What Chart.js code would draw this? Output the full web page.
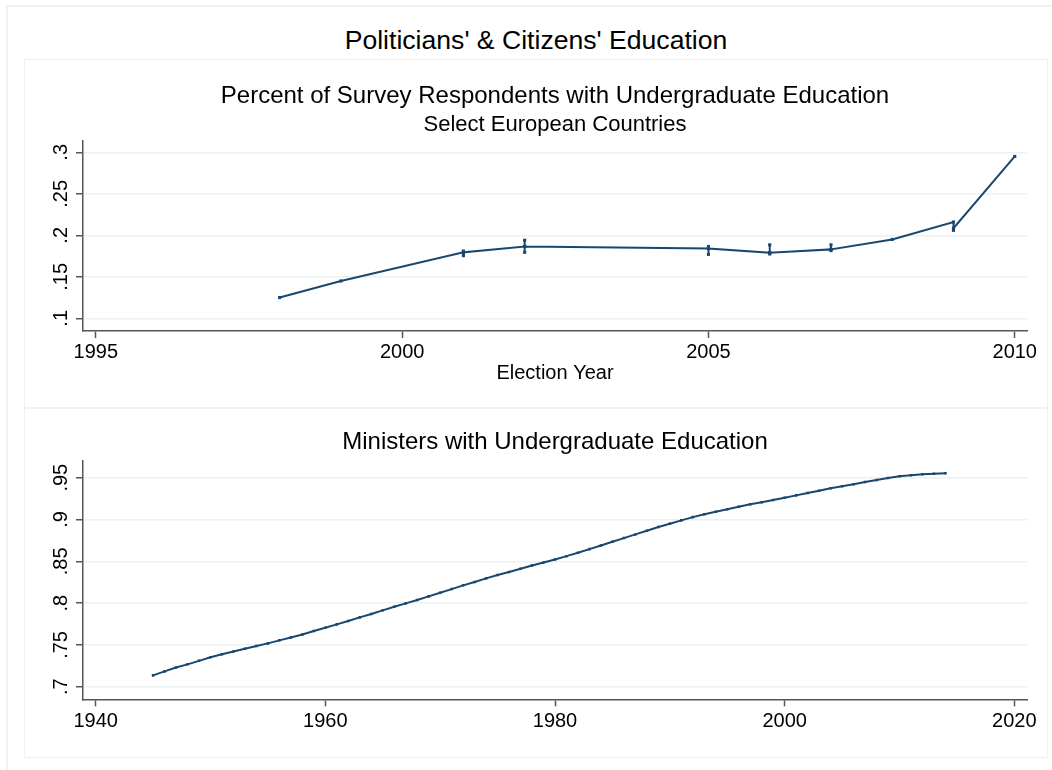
<!DOCTYPE html>
<html>
<head>
<meta charset="utf-8">
<title>Politicians' & Citizens' Education</title>
<script src="https://cdn.jsdelivr.net/npm/chart.js@4.4.1/dist/chart.umd.min.js"></script>
<style>
  html, body { margin: 0; padding: 0; background: #fff; overflow: hidden; }
  body { width: 1052px; height: 770px; position: relative; font-family: 'Liberation Sans', Arial, sans-serif; }
  #frame { position: absolute; left: 8px; top: 7px; width: 1100px; height: 800px; outline: 2px solid #eaf2f3; }
  #mainTitle { position: absolute; left: 25px; top: 25px; width: 1022px; line-height: 30px; text-align: center; font-size: 26.6px; color: #000; }
  .panel { position: absolute; left: 25px; width: 1022px; outline: 1.5px solid #eaf2f3; }
  #topPanel { top: 60px; height: 348px; }
  #bottomPanel { top: 408px; height: 349px; }
</style>
</head>
<body>
<div id="frame"></div>
<div id="mainTitle">Politicians' &amp; Citizens' Education</div>
<div class="panel" id="topPanel"><canvas id="surveyChart"></canvas></div>
<div class="panel" id="bottomPanel"><canvas id="ministerChart"></canvas></div>

<script>
// Survey respondents (several countries per election year in some years)
const surveyYears = [1998, 1999, 2001, 2001, 2001, 2001, 2002, 2002, 2002, 2002,
  2005, 2005, 2005, 2005, 2006, 2006, 2006, 2006, 2007, 2007, 2007, 2007,
  2008, 2009, 2009, 2009, 2010];
const surveyShares = [0.125, 0.145, 0.1795, 0.1755, 0.181, 0.1795, 0.1865, 0.1795, 0.194, 0.1865,
  0.184, 0.177, 0.1865, 0.184, 0.179, 0.1775, 0.1885, 0.179, 0.183, 0.1815, 0.1885, 0.183,
  0.195, 0.216, 0.206, 0.2085, 0.295];
const surveyXTicks = [1995, 2000, 2005, 2010];
const surveyYTicks = [0.1, 0.15, 0.2, 0.25, 0.3];

// Ministers
const ministerYears = [1945, 1946, 1947, 1948, 1949, 1950, 1951, 1952, 1953, 1954,
  1955, 1956, 1957, 1958, 1959, 1960, 1961, 1962, 1963, 1964,
  1965, 1966, 1967, 1968, 1969, 1970, 1971, 1972, 1973, 1974,
  1975, 1976, 1977, 1978, 1979, 1980, 1981, 1982, 1983, 1984,
  1985, 1986, 1987, 1988, 1989, 1990, 1991, 1992, 1993, 1994,
  1995, 1996, 1997, 1998, 1999, 2000, 2001, 2002, 2003, 2004,
  2005, 2006, 2007, 2008, 2009, 2010, 2011, 2012, 2013, 2014];
const ministerShares = [0.7136, 0.7184, 0.7230, 0.7268, 0.7310, 0.7352, 0.7388, 0.7422, 0.7455, 0.7487,
  0.7519, 0.7555, 0.7590, 0.7626, 0.7666, 0.7705, 0.7746, 0.7786, 0.7830, 0.7870,
  0.7914, 0.7957, 0.7997, 0.8037, 0.8081, 0.8124, 0.8168, 0.8213, 0.8252, 0.8296,
  0.8336, 0.8372, 0.8411, 0.8451, 0.8487, 0.8523, 0.8562, 0.8602, 0.8646, 0.8690,
  0.8734, 0.8778, 0.8822, 0.8866, 0.8910, 0.8950, 0.8990, 0.9029, 0.9062, 0.9093,
  0.9122, 0.9153, 0.9182, 0.9206, 0.9233, 0.9261, 0.9289, 0.9317, 0.9344, 0.9373,
  0.9397, 0.9421, 0.9448, 0.9472, 0.9496, 0.9517, 0.9529, 0.9541, 0.9548, 0.9553];
const ministerXTicks = [1940, 1960, 1980, 2000, 2020];
const ministerYTicks = [0.7, 0.75, 0.8, 0.85, 0.9, 0.95];

const NAVY = '#1a476f';
const AXIS = '#555555';
const GRID = '#eaf2f3';
const FONT = "'Liberation Sans', Arial, Helvetica, sans-serif";

Chart.defaults.font.family = FONT;
Chart.defaults.color = '#000';
Chart.defaults.animation = false;

// stata style labels: .25 instead of 0.25
const stataNum = v => String(+v.toFixed(2)).replace(/^0\./, '.');

function xScale(min, max, ticks, height, tickPad, title) {
  return {
    type: 'linear', min: min, max: max,
    afterBuildTicks: s => { s.ticks = ticks.map(v => ({ value: v })); },
    afterFit: s => { s.height = height; },
    border: { display: true, color: AXIS, width: 1.5 },
    grid: { drawOnChartArea: false, drawTicks: true, tickLength: 7, tickColor: AXIS, tickWidth: 1.5 },
    ticks: { font: { size: 20 }, padding: tickPad, maxRotation: 0, autoSkip: false, callback: v => String(v) },
    title: title ? { display: true, text: title, font: { size: 20, lineHeight: 1.2 }, padding: 0 } : { display: false }
  };
}

function yScale(min, max, ticks) {
  return {
    type: 'linear', min: min, max: max,
    afterBuildTicks: s => { s.ticks = ticks.map(v => ({ value: v })); },
    afterFit: s => { s.width = 58; },
    border: { display: true, color: AXIS, width: 1.5 },
    grid: { color: GRID, lineWidth: 1.5, drawTicks: true, tickLength: 7, tickColor: AXIS, tickWidth: 1.5 },
    ticks: { font: { size: 20 }, minRotation: 90, maxRotation: 90, crossAlign: 'center', padding: 1.1, autoSkip: false, callback: v => stataNum(v) }
  };
}

function lineData(xs, ys, radius) {
  return {
    datasets: [{
      data: xs.map((x, i) => ({ x: x, y: ys[i] })),
      borderColor: NAVY, backgroundColor: NAVY, borderWidth: 2, tension: 0,
      pointStyle: 'rect', pointRadius: radius, pointBorderWidth: 0
    }]
  };
}

// titles span only the plot width (fullSize false) so they centre over the plot like Stata
function titleOpts(text, size, lineHeight, top, bottom) {
  return { display: true, fullSize: false, text: text, font: { size: size, weight: 'normal', lineHeight: lineHeight }, color: '#000', padding: { top: top, bottom: bottom } };
}

// Survey chart
new Chart(document.getElementById('surveyChart'), {
  type: 'line',
  data: lineData(surveyYears, surveyShares, 2.2),
  options: {
    responsive: true, maintainAspectRatio: false,
    layout: { padding: { left: 0, right: 20, top: 0, bottom: 22.5 } },
    plugins: {
      legend: { display: false }, tooltip: { enabled: false },
      title: titleOpts('Percent of Survey Respondents with Undergraduate Education', 24, 1.2, 21.6, 0),
      subtitle: titleOpts('Select European Countries', 22, 1.0, 3.4, 5.2)
    },
    scales: {
      x: xScale(1994.79, 2010.2, surveyXTicks, 54.5, 2, 'Election Year'),
      y: yScale(0.0847, 0.3136, surveyYTicks)
    }
  }
});

// Ministers chart
new Chart(document.getElementById('ministerChart'), {
  type: 'line',
  data: lineData(ministerYears, ministerShares, 1.8),
  options: {
    responsive: true, maintainAspectRatio: false,
    layout: { padding: { left: 0, right: 20, top: 0, bottom: 22.7 } },
    plugins: {
      legend: { display: false }, tooltip: { enabled: false },
      title: titleOpts('Ministers with Undergraduate Education', 24, 1.2, 19.6, 4.6)
    },
    scales: {
      x: xScale(1938.9, 2021.1, ministerXTicks, 35, 3.5, null),
      y: yScale(0.685, 0.970, ministerYTicks)
    }
  }
});
</script>
</body>
</html>
